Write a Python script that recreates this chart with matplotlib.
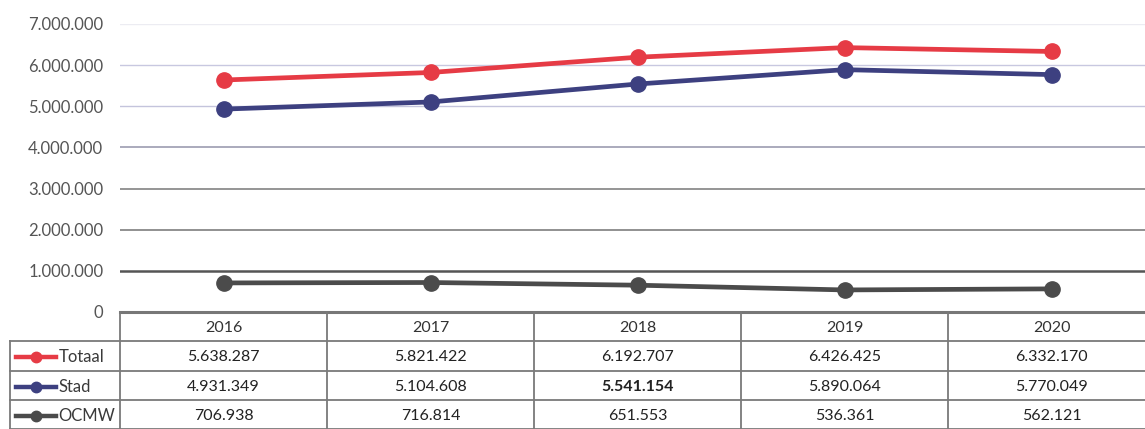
import matplotlib.pyplot as plt
from matplotlib.ticker import FuncFormatter

# Data
years = ["2016", "2017", "2018", "2019", "2020"]
totaal = [5638287, 5821422, 6192707, 6426425, 6332170]
stad = [4931349, 5104608, 5541154, 5890064, 5770049]
ocmw = [706938, 716814, 651553, 536361, 562121]
series_names = ["Totaal", "Stad", "OCMW"]
series_colors = ["#e63b45", "#3d4080", "#4b4b4b"]


def dotted(v, pos=None):
    # Belgian style thousands separator
    return f"{int(v):,}".replace(",", ".")


plt.rcParams['font.family'] = ['Lato', 'DejaVu Sans']

fig = plt.figure(figsize=(11.45, 4.29), dpi=100)
W, H = 1145, 429

# Main plot area
ax = fig.add_axes([120 / W, (H - 312) / H, 1035 / W, 288 / H])
x = list(range(len(years)))
for vals, col in zip([totaal, stad, ocmw], series_colors):
    ax.plot(x, vals, color=col, lw=3.4, marker='o', markersize=11, zorder=3)

ax.set_xlim(-0.5, len(years) - 0.5)
ax.set_ylim(0, 7000000)
ticks = list(range(0, 7000001, 1000000))
ax.set_yticks(ticks)
ax.yaxis.set_major_formatter(FuncFormatter(dotted))
ax.tick_params(axis='y', length=0, pad=12, labelsize=12, labelcolor='#555555')
ax.set_xticks([])
for s in ax.spines.values():
    s.set_visible(False)

# gridlines fade out towards the top in the scan
grid_colors = ['#777777', '#555555', '#888888', '#8c8c8c', '#9c9cb0', '#c4c4dc', '#c8c8e0', '#ececf2']
grid_widths = [2.2, 1.8, 1.3, 1.3, 1.2, 1.0, 1.0, 1.0]
for t, gc, gw in zip(ticks[1:], grid_colors[1:], grid_widths[1:]):
    ax.axhline(t, color=gc, lw=gw, zorder=1)

# Data table below the plot, sharing the category positions
tab = fig.add_axes([120 / W, 0, 1035 / W, (H - 312) / H], sharex=ax)
tab.set_ylim(4, 0)
tab.axis('off')
legend_left = -0.5 - 110 / 207

line_kw = dict(color='#7a7a7a', lw=1.3, clip_on=False)
# header row border
tab.plot([-0.5, len(years) - 0.5], [0, 0], color=grid_colors[0], lw=grid_widths[0], clip_on=False)
for r in range(1, 5):
    tab.plot([legend_left, len(years) - 0.5], [r, r], **line_kw)
for i in range(len(years) + 1):
    tab.plot([i - 0.5, i - 0.5], [0, 4], **line_kw)
tab.plot([legend_left, legend_left], [1, 4], **line_kw)

for i, yr in enumerate(years):
    tab.text(i, 0.55, yr, ha='center', va='center', fontsize=11.5, color='#333333')

for r, (name, vals, col) in enumerate(zip(series_names, [totaal, stad, ocmw], series_colors)):
    yc = r + 1.55
    tab.plot([legend_left + 0.03, legend_left + 0.22], [yc, yc], color=col, lw=3.2,
             clip_on=False)
    tab.plot([legend_left + 0.125], [yc], color=col, marker='o', markersize=7.5, clip_on=False)
    tab.text(legend_left + 0.235, yc, name, ha='left', va='center', fontsize=12, color='#3a3a3a')
    for i, v in enumerate(vals):
        bold = (name == "Stad" and years[i] == "2018")
        tab.text(i, yc, dotted(v), ha='center', va='center', fontsize=11.5,
                 color='#222222', fontweight='bold' if bold else 'normal')

plt.savefig("out.png", dpi=100)
